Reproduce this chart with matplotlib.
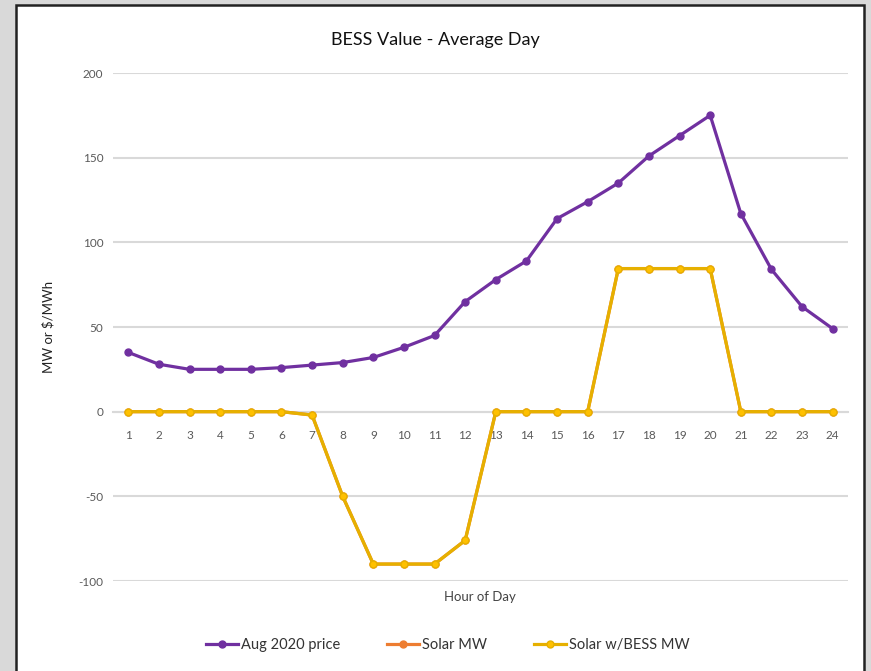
import matplotlib
matplotlib.use("Agg")
import matplotlib.pyplot as plt
from matplotlib.patches import Rectangle
from matplotlib.lines import Line2D

hours = list(range(1, 25))
price = [35, 28, 25, 25, 25, 26, 27.5, 29, 32, 38, 45, 65, 78, 89, 114, 124, 135, 151, 163, 175, 117, 84, 62, 49]
solar_mw = [0, 0, 0, 0, 0, 0, -2, -50, -90, -90, -90, -76, 0, 0, 0, 0, 84.5, 84.5, 84.5, 84.5, 0, 0, 0, 0]
solar_bess = [0, 0, 0, 0, 0, 0, -2, -50, -90, -90, -90, -76, 0, 0, 0, 0, 84.5, 84.5, 84.5, 84.5, 0, 0, 0, 0]
yticks = [-100, -50, 0, 50, 100, 150, 200]

plt.rcParams['font.family'] = ['Lato', 'DejaVu Sans']
plt.rcParams['axes.unicode_minus'] = False

W, H = 871, 671
fig = plt.figure(figsize=(W / 100, H / 100), dpi=100)
fig.patch.set_facecolor('#d9d9d9')
fig.patches.append(Rectangle((16 / W, -0.02), (864 - 16) / W, (H - 5) / H + 0.02,
                             transform=fig.transFigure, facecolor='white',
                             edgecolor='#222222', linewidth=1.8, zorder=-10))

ax = fig.add_axes([113 / W, 1 - 581 / H, (848 - 113) / W, (581 - 73) / H])
ax.set_facecolor('none')
ax.set_xlim(0.5, 24.5)
ax.set_ylim(-100, 200)
ax.set_yticks(yticks)
ax.set_xticks(hours)
ax.grid(axis='y', color='#d9d9d9', linewidth=1.5)
ax.set_axisbelow(True)
for s in ['top', 'right', 'left']:
    ax.spines[s].set_visible(False)
ax.spines['bottom'].set_position(('data', 0))
ax.spines['bottom'].set_color('#d9d9d9')
ax.spines['bottom'].set_linewidth(1.5)
ax.tick_params(axis='both', length=0, labelsize=8.5, labelcolor='#595959')
ax.tick_params(axis='x', pad=13)
ax.tick_params(axis='y', pad=7)

ax.plot(hours, price, color='#7030A0', linewidth=2.3, marker='o', markersize=5, zorder=3)
ax.plot(hours, solar_mw, color='#ED7D31', linewidth=2.3, marker='o', markersize=5, zorder=3)
ax.plot(hours, solar_bess, color='#E6B000', linewidth=2.3, marker='o', markersize=5,
        markerfacecolor='#FFC000', zorder=4)

fig.text(0.5, 1 - 40 / H, 'BESS Value - Average Day', ha='center', va='center',
         fontsize=13, color='#111111')
fig.text(48 / W, 1 - 327 / H, 'MW or $/MWh', rotation=90, ha='center', va='center',
         fontsize=9.5, color='#222222')
fig.text(480 / W, 1 - 597 / H, 'Hour of Day', ha='center', va='center',
         fontsize=9.5, color='#444444')

handles = [
    Line2D([], [], color='#7030A0', linewidth=2.3, marker='o', markersize=5),
    Line2D([], [], color='#ED7D31', linewidth=2.3, marker='o', markersize=5),
    Line2D([], [], color='#E6B000', linewidth=2.3, marker='o', markersize=5, markerfacecolor='#FFC000'),
]
fig.legend(handles, ['Aug 2020 price', 'Solar MW', 'Solar w/BESS MW'],
           loc='center', bbox_to_anchor=(448 / W, 1 - 645 / H), ncol=3, frameon=False,
           fontsize=10.5, handlelength=2.2, handletextpad=0.2, columnspacing=3.2,
           labelcolor='#333333')

fig.savefig('out.png', dpi=100, facecolor=fig.get_facecolor())
